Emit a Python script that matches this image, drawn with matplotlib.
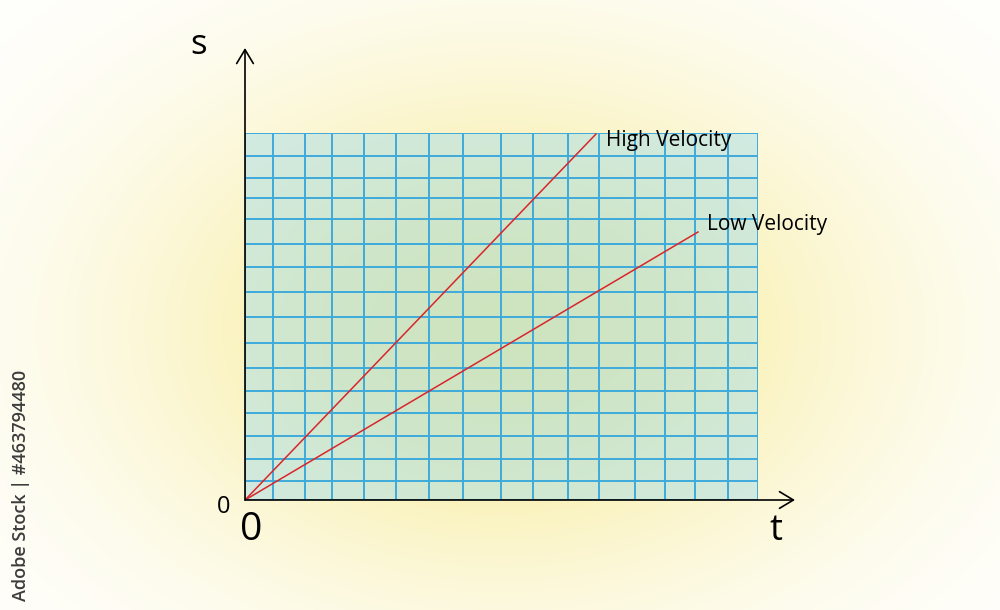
import numpy as np
import matplotlib.pyplot as plt

plt.rcParams['font.family'] = ['Open Sans', 'DejaVu Sans']

# grid line positions (hand drawn, slightly uneven)
t_grid = [0, 28, 60, 87, 119, 151, 184, 218, 256, 288, 323, 354, 390, 420, 450, 483, 513]
s_grid = [0, 19, 41, 64, 87, 109, 132, 157, 183, 208, 233, 256, 281, 302, 322, 344, 367]

# the two motion lines (start / end)
high_t = [0, 351]
high_s = [0, 366]
low_t = [0, 453]
low_s = [0, 268]

fig = plt.figure(figsize=(10, 6.1), dpi=100)

# background: soft yellow glow
bg = fig.add_axes([0, 0, 1, 1])
X, Y = np.meshgrid(np.arange(1000), np.arange(610))
w = np.exp(-(((X - 500) / 440.0) ** 2 + ((Y - 330) / 310.0) ** 2) * 1.4)
white = np.array([1.0, 1.0, 1.0])
yellow = np.array([247, 236, 155]) / 255.0
img = white * (1 - w[..., None]) + yellow * w[..., None]
bg.imshow(img, extent=[0, 1000, 610, 0], aspect='auto')
bg.axis('off')

ax = fig.add_axes([0.245, 110 / 610, 0.513, 367 / 610])
ax.set_xlim(0, 513)
ax.set_ylim(0, 367)
ax.set_facecolor((0.62, 0.86, 0.93, 0.45))
for sp in ax.spines.values():
    sp.set_visible(False)
ax.set_xticks([])
ax.set_yticks([])

grid_col = '#3eaadb'
ax.vlines(t_grid, 0, s_grid[-1], color=grid_col, lw=1.4)
ax.hlines(s_grid, 0, t_grid[-1], color=grid_col, lw=1.4)

ax.plot(high_t, high_s, color='#d8262b', lw=1.1)
ax.plot(low_t, low_s, color='#d8262b', lw=1.1)

ax.text(361, 360, 'High Velocity', fontsize=15, va='center', ha='left', clip_on=False)
ax.text(462, 276, 'Low Velocity', fontsize=15, va='center', ha='left', clip_on=False)

# axes with open arrow heads
arrow = dict(arrowstyle='->,head_length=1.0,head_width=0.6', lw=1.2, color='black',
             shrinkA=0, shrinkB=0)
ax.annotate('', xy=(0, 452), xytext=(0, 0), arrowprops=arrow, annotation_clip=False)
ax.annotate('', xy=(550, 0), xytext=(0, 0), arrowprops=arrow, annotation_clip=False)

ax.text(-46, 455, 's', fontsize=25, ha='center', va='center', clip_on=False)
ax.text(531, -31, 't', fontsize=26, ha='center', va='center', clip_on=False)
ax.text(6, -30, '0', fontsize=28, ha='center', va='center', clip_on=False)
ax.text(-21, -7, '0', fontsize=17, ha='center', va='center', clip_on=False)

fig.text(0.021, 0.205, 'Adobe Stock | #463794480', rotation=90, fontsize=13,
         color='#3c3c3c', ha='center', va='center', fontweight='semibold')

fig.savefig('out.png', dpi=100)
